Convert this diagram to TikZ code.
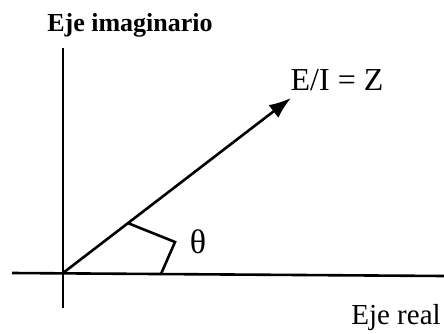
\documentclass[tikz,border=0pt]{standalone}
\usepackage{fontspec}
\setmainfont{Liberation Serif}
\usetikzlibrary{arrows.meta}
\begin{document}
\begin{tikzpicture}[x=0.5pt,y=0.5pt,line width=1.3pt,every node/.style={font=\fontsize{13}{15}\selectfont,inner sep=0pt}]
      \useasboundingbox (0,0) rectangle (444,333);
      \coordinate (o) at (63,60);
      \coordinate (top) at (63,285);
      \coordinate (bot) at (63,25);
      \coordinate (left) at (12,60);
      \coordinate (right) at (444,57);
      \coordinate (z) at (291,235);
      \coordinate (k) at (175,91);
      \coordinate (m) at (161,59);
      \node (imag) at (130,308) {\textbf{Eje imaginario}};
      \node (real) at (396,15) [font=\fontsize{14.5}{16}\selectfont] {Eje real};
      \node (zlab) at (337,253) [font=\fontsize{16}{18}\selectfont] {E/I = Z};
      \node (th) at (198,91) [font=\fontsize{17}{19}\selectfont] {θ};
      \draw (bot) -- (top);
      \draw (left) -- (right);
      \draw [-{Latex[length=11pt,width=8pt]}] (o) -- (z) coordinate [pos=0.285] (p);
      \draw (p) -- (k) -- (m);
  \end{tikzpicture}
\end{document}
